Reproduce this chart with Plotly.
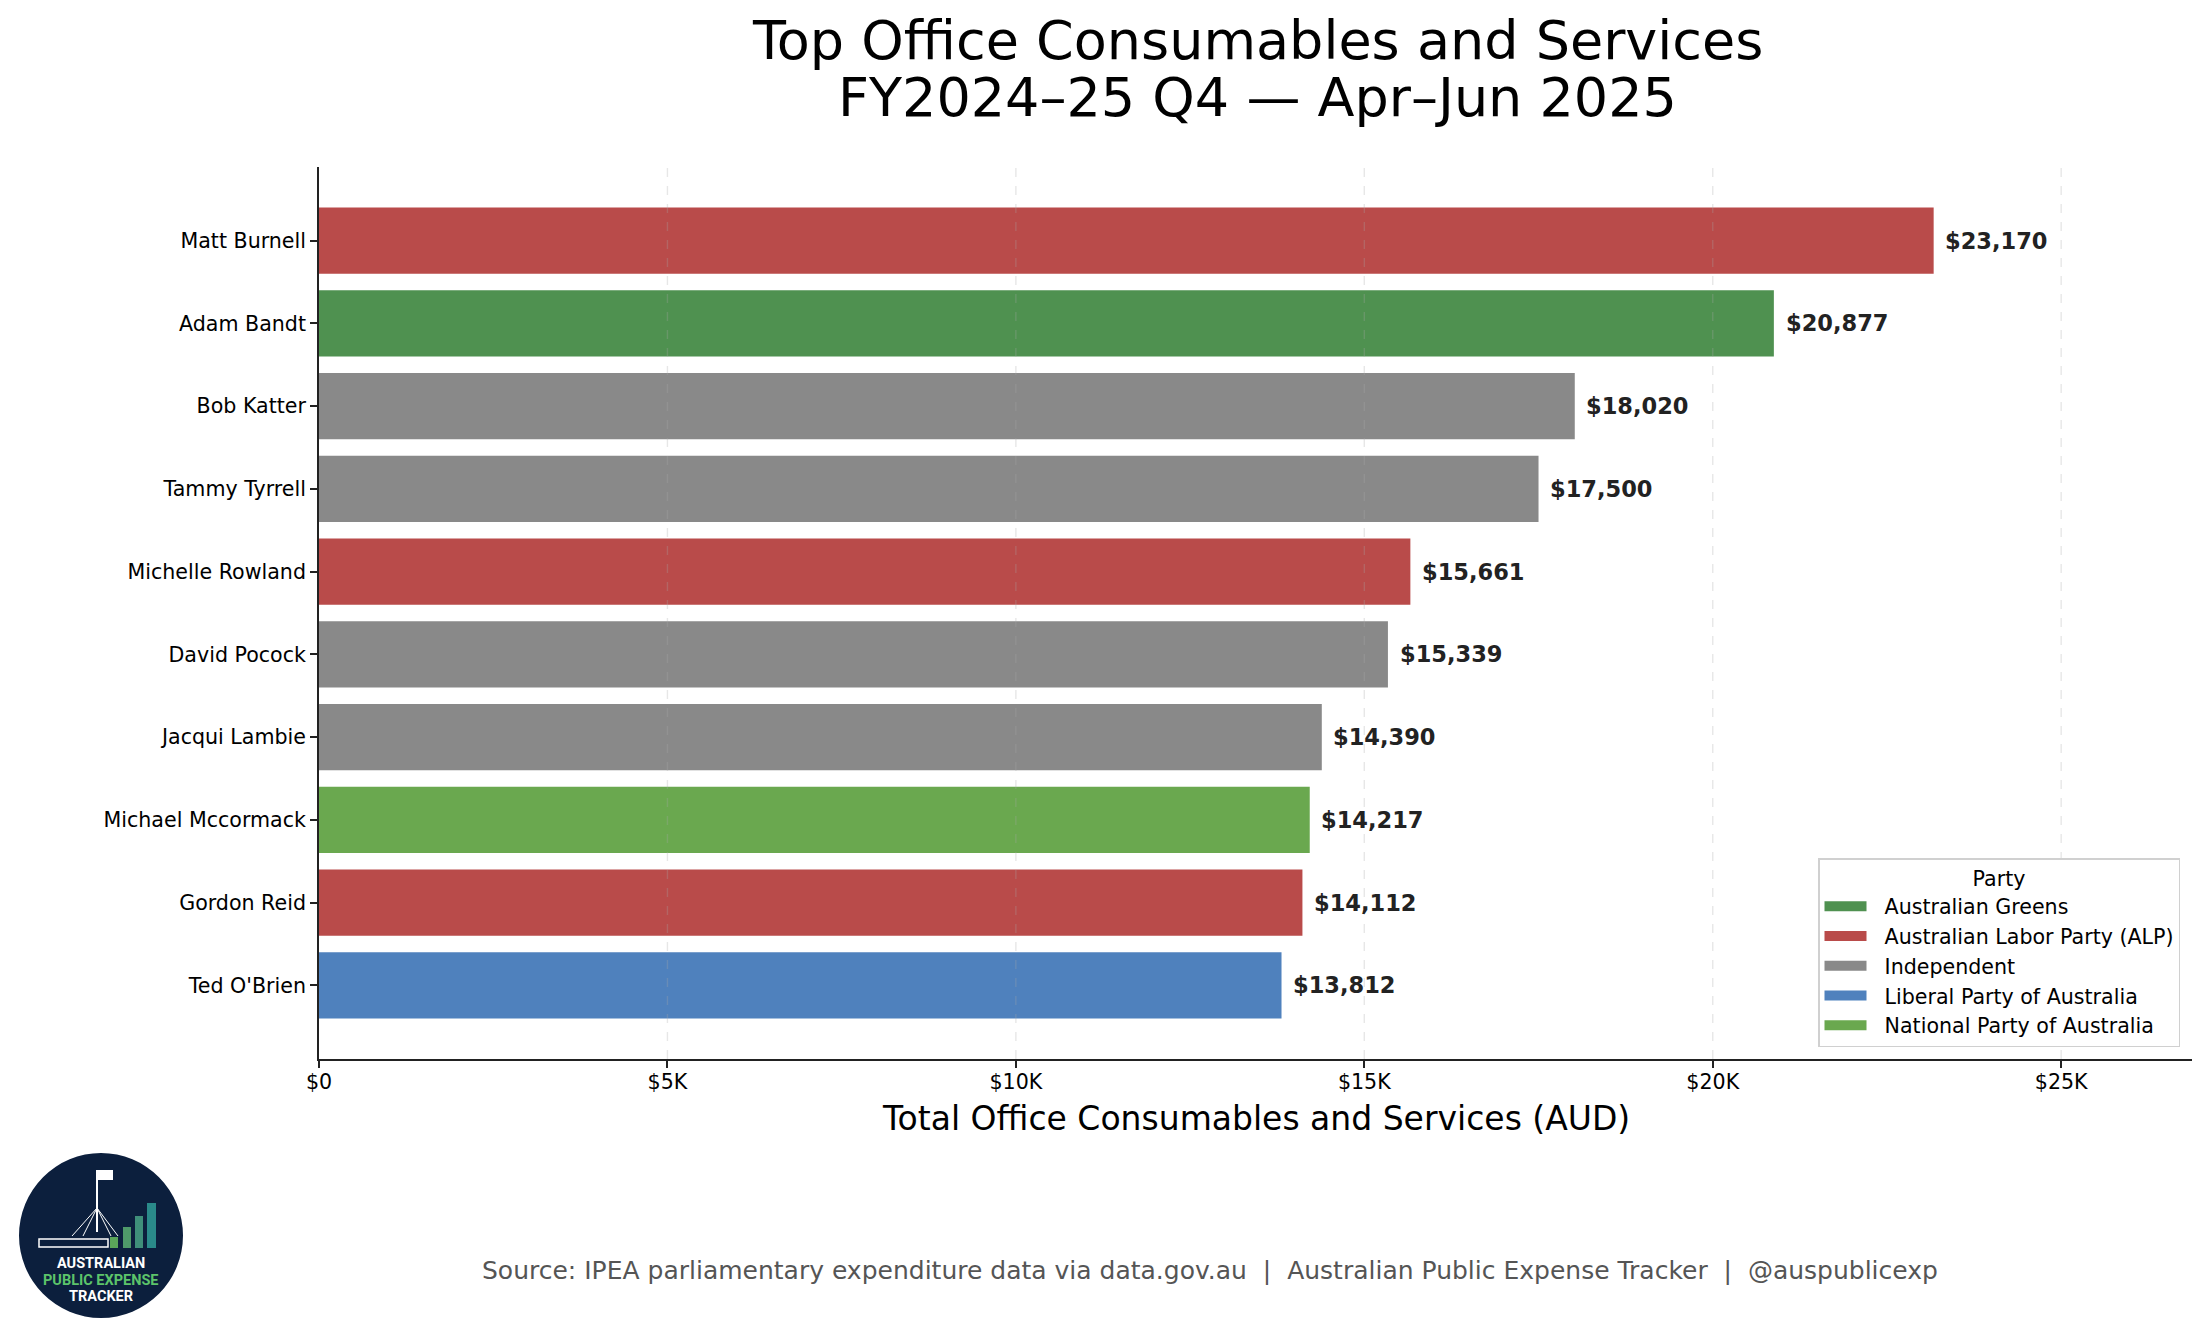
import plotly.graph_objects as go

# ---------------- data ----------------
members = ["Matt Burnell", "Adam Bandt", "Bob Katter", "Tammy Tyrrell", "Michelle Rowland",
           "David Pocock", "Jacqui Lambie", "Michael Mccormack", "Gordon Reid", "Ted O'Brien"]
totals = [23170, 20877, 18020, 17500, 15661, 15339, 14390, 14217, 14112, 13812]
member_party = ["Australian Labor Party (ALP)", "Australian Greens", "Independent", "Independent",
                "Australian Labor Party (ALP)", "Independent", "Independent",
                "National Party of Australia", "Australian Labor Party (ALP)",
                "Liberal Party of Australia"]
party_order = ["Australian Greens", "Australian Labor Party (ALP)", "Independent",
               "Liberal Party of Australia", "National Party of Australia"]
party_colors = ["#4f9150", "#b94b4a", "#898989", "#4f81bd", "#6aa84f"]
tick_values = [0, 5000, 10000, 15000, 20000, 25000]
tick_labels = ["$0", "$5K", "$10K", "$15K", "$20K", "$25K"]

FONT = "DejaVu Sans"
W, H = 2205, 1337
L, R, T, B = 319, 2192, 167, 1059  # plot area in pixels


def px_x(x):
    return (x - L) / (R - L)


def px_y(y):
    return (B - y) / (B - T)


fig = go.Figure()
for party, color in zip(party_order, party_colors):
    ys = [m for m, p in zip(members, member_party) if p == party]
    xs = [v for v, p in zip(totals, member_party) if p == party]
    fig.add_trace(go.Bar(
        x=xs, y=ys, orientation="h", name=party, width=0.8,
        marker=dict(color=color, line=dict(width=0)),
        hoverinfo="x+y", showlegend=False, legendgroup=party,
    ))
# legend swatches (wide rectangles like the original)
for party, color in zip(party_order, party_colors):
    fig.add_trace(go.Scatter(
        x=[None], y=[None], mode="lines", name="\u00a0\u00a0" + party, legendgroup=party,
        line=dict(color=color, width=15), hoverinfo="skip",
    ))

xmax = max(totals) * 1.16
offset = max(totals) * 0.006

annotations = []
for m, v in zip(members, totals):
    annotations.append(dict(
        x=v + offset, y=m, xref="x", yref="y", text=f"<b>${v:,}</b>",
        showarrow=False, xanchor="left", yanchor="middle",
        font=dict(family=FONT, size=22.5, color="#222222"),
    ))

# title lines
annotations.append(dict(
    x=px_x(1257), y=px_y(40), xref="paper", yref="paper",
    text="Top Office Consumables and Services", showarrow=False,
    xanchor="center", yanchor="middle", font=dict(family=FONT, size=54, color="#000000")))
annotations.append(dict(
    x=px_x(1257), y=px_y(98), xref="paper", yref="paper",
    text="FY2024–25 Q4 — Apr–Jun 2025", showarrow=False,
    xanchor="center", yanchor="middle", font=dict(family=FONT, size=54, color="#000000")))
# x-axis label
annotations.append(dict(
    x=px_x(1256), y=px_y(1118), xref="paper", yref="paper",
    text="Total Office Consumables and Services (AUD)", showarrow=False,
    xanchor="center", yanchor="middle", font=dict(family=FONT, size=33, color="#000000")))
# source
annotations.append(dict(
    x=px_x(1210), y=px_y(1270), xref="paper", yref="paper",
    text="Source: IPEA parliamentary expenditure data via data.gov.au  |  Australian Public Expense Tracker  |  @auspublicexp",
    showarrow=False, xanchor="center", yanchor="middle",
    font=dict(family=FONT, size=25, color="#555555")))
# logo text
for txt, yy, col in [("AUSTRALIAN", 1263, "#ffffff"), ("PUBLIC EXPENSE", 1280, "#5cc46a"),
                     ("TRACKER", 1296, "#ffffff")]:
    annotations.append(dict(
        x=px_x(101), y=px_y(yy), xref="paper", yref="paper", text=f"<b>{txt}</b>",
        showarrow=False, xanchor="center", yanchor="middle",
        font=dict(family="Roboto", size=14.5, color=col)))

shapes = []
# dashed grid lines above bars (faint)
for tv in tick_values[1:]:
    shapes.append(dict(type="line", xref="x", yref="paper", x0=tv, x1=tv, y0=0, y1=1,
                       line=dict(color="rgba(170,170,170,0.28)", width=1.4, dash="dash"),
                       layer="above"))
# logo
shapes.append(dict(type="circle", xref="paper", yref="paper",
                   x0=px_x(19), x1=px_x(183), y0=px_y(1318), y1=px_y(1153),
                   fillcolor="#0c1f3d", line=dict(width=0), layer="above"))
for (x0, x1, top, col) in [(110, 118, 1237, "#5aa55a"), (123, 131, 1227, "#4f9a6a"),
                           (135, 143, 1216, "#3f8f7a"), (147, 156, 1203, "#2a8a8a")]:
    shapes.append(dict(type="rect", xref="paper", yref="paper",
                       x0=px_x(x0), x1=px_x(x1), y0=px_y(1248), y1=px_y(top),
                       fillcolor=col, line=dict(width=0), layer="above"))
shapes.append(dict(type="rect", xref="paper", yref="paper",
                   x0=px_x(39), x1=px_x(108), y0=px_y(1247), y1=px_y(1239),
                   fillcolor="rgba(0,0,0,0)", line=dict(color="#ffffff", width=1.5), layer="above"))
shapes.append(dict(type="line", xref="paper", yref="paper",
                   x0=px_x(97), x1=px_x(97), y0=px_y(1232), y1=px_y(1170),
                   line=dict(color="#ffffff", width=2), layer="above"))
for xe in [72, 83, 111, 118]:
    shapes.append(dict(type="line", xref="paper", yref="paper",
                       x0=px_x(97), x1=px_x(xe), y0=px_y(1208), y1=px_y(1236),
                       line=dict(color="#ffffff", width=1), layer="above"))
shapes.append(dict(type="rect", xref="paper", yref="paper",
                   x0=px_x(98), x1=px_x(113), y0=px_y(1180), y1=px_y(1170),
                   fillcolor="#ffffff", line=dict(width=0), layer="above"))

fig.update_layout(
    width=W, height=H,
    margin=dict(l=L, r=W - R, t=T, b=H - B, autoexpand=False),
    paper_bgcolor="#ffffff", plot_bgcolor="#ffffff",
    barmode="overlay",
    font=dict(family=FONT, size=20.6, color="#000000"),
    showlegend=True,
    legend=dict(
        title=dict(text="Party", side="top center", font=dict(family=FONT, size=20.6)),
        x=px_x(2180), y=px_y(1047), xanchor="right", yanchor="bottom",
        bgcolor="#ffffff", bordercolor="#d0d0d0", borderwidth=1.5,
        font=dict(family=FONT, size=20.6, color="#000000"),
        itemwidth=42, traceorder="normal",
    ),
    xaxis=dict(
        range=[0, xmax], tickmode="array", tickvals=tick_values, ticktext=tick_labels,
        showgrid=False, zeroline=False, showline=True, linecolor="#222222", linewidth=1.8,
        ticks="outside", ticklen=7, tickwidth=1.6, tickcolor="#222222",
        tickfont=dict(family=FONT, size=20.6, color="#000000"),
        ticklabelstandoff=-4,
    ),
    yaxis=dict(
        type="category", categoryorder="array", categoryarray=members,
        range=[len(members) - 1 + 0.89, -0.89],
        showgrid=False, zeroline=False, showline=True, linecolor="#222222", linewidth=1.8,
        ticks="outside", ticklen=7, tickwidth=1.6, tickcolor="#222222",
        tickfont=dict(family=FONT, size=20.6, color="#000000"),
    ),
    annotations=annotations,
    shapes=shapes,
)

fig.write_html("out.html", config={"displayModeBar": False},
               post_script="document.body.style.margin='0';document.body.style.overflow='hidden';")
